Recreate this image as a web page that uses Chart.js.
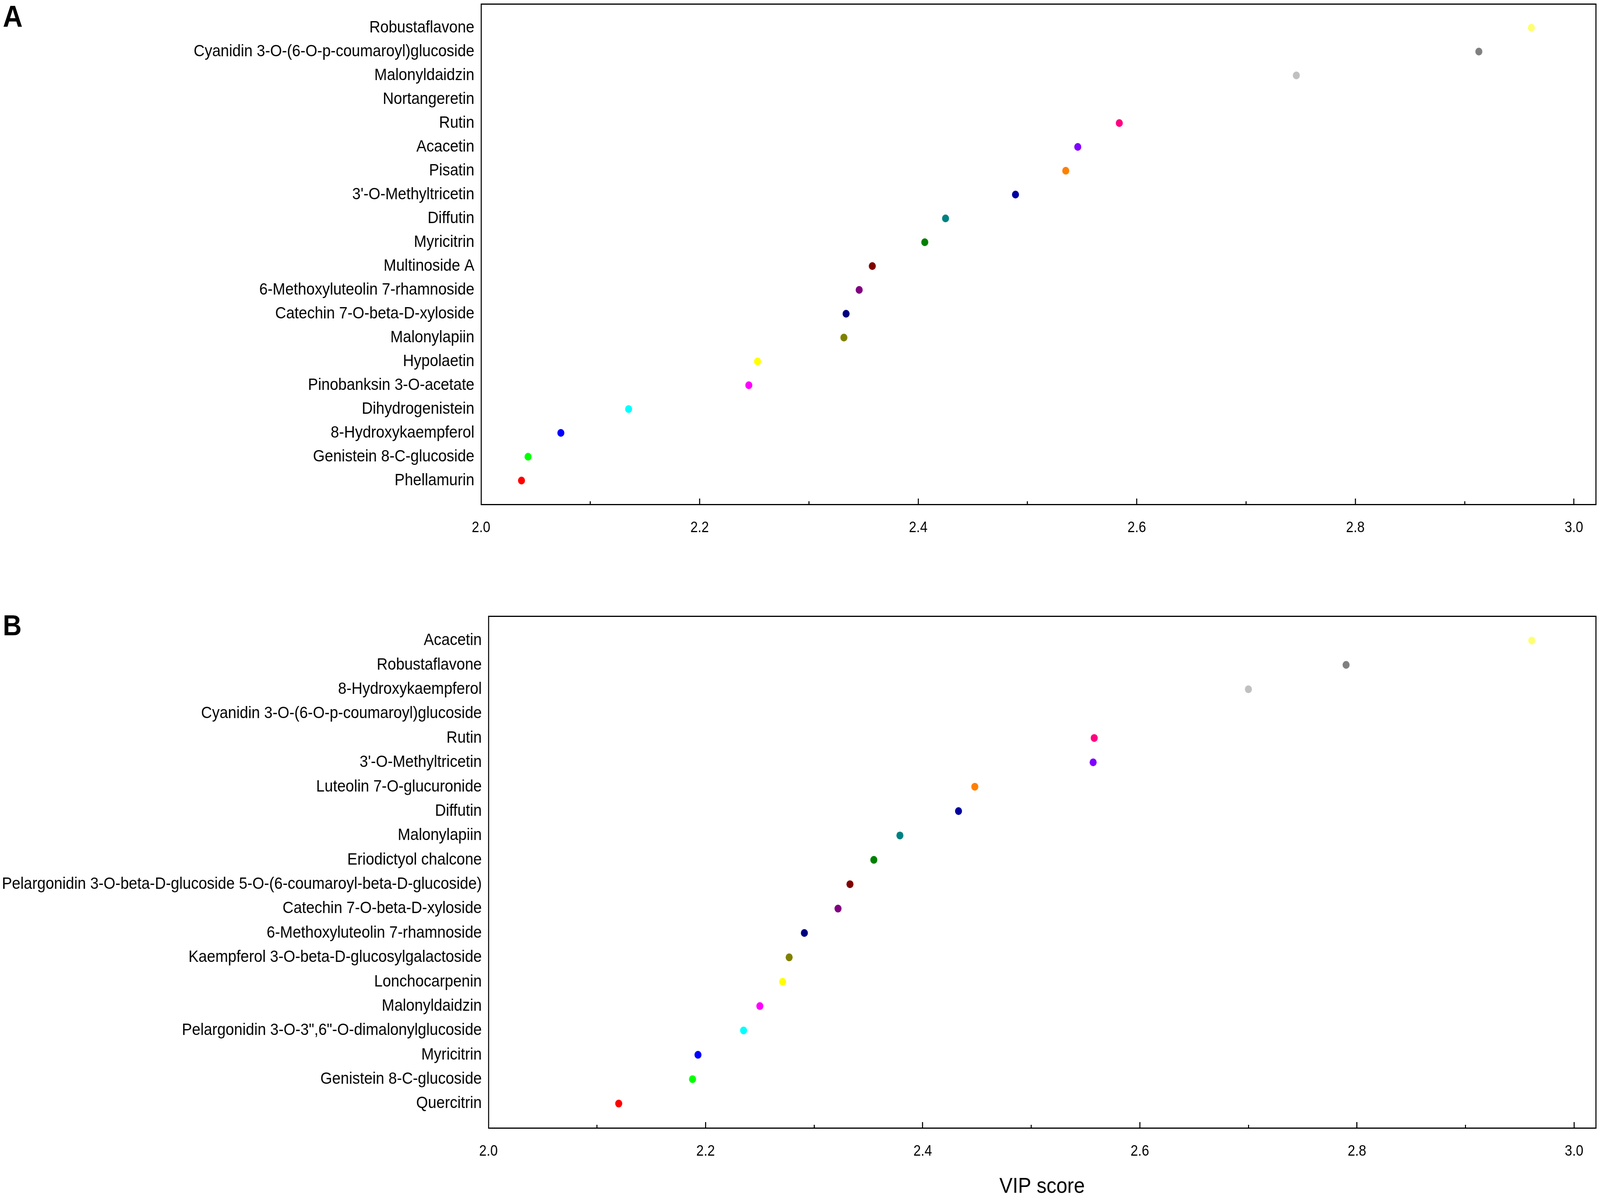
<!DOCTYPE html>
<html><head><meta charset="utf-8">
<script src="https://cdn.jsdelivr.net/npm/chart.js@4.4.1/dist/chart.umd.min.js"></script>
<style>
html,body{margin:0;padding:0;background:#fff;overflow:hidden;}
#outer{position:relative;overflow:hidden;background:#fff;}
#wrap{position:absolute;left:0;top:0;width:4550px;height:3074px;overflow:hidden;background:#fff;transform-origin:0 0;}
canvas{position:absolute;left:0;}
#cA{top:0;}
#cB{top:1450px;}
.panel{position:absolute;left:8px;font-family:"Liberation Sans",Arial,sans-serif;font-weight:bold;line-height:1;color:#000;}
</style></head><body>
<div id="outer">
<div id="wrap">
<canvas id="cA" width="4550" height="1450" style="width:4550px;height:1450px"></canvas>
<canvas id="cB" width="4550" height="1624" style="width:4550px;height:1624px"></canvas>
<div class="panel" style="top:3px;font-size:78px">A</div>
<div class="panel" style="top:1564px;font-size:74px">B</div>
</div>
</div>
<script>
// ---- data (top row first) ----
const namesA = ['Robustaflavone','Cyanidin 3-O-(6-O-p-coumaroyl)glucoside','Malonyldaidzin','Nortangeretin','Rutin','Acacetin','Pisatin',"3'-O-Methyltricetin",'Diffutin','Myricitrin','Multinoside A','6-Methoxyluteolin 7-rhamnoside','Catechin 7-O-beta-D-xyloside','Malonylapiin','Hypolaetin','Pinobanksin 3-O-acetate','Dihydrogenistein','8-Hydroxykaempferol','Genistein 8-C-glucoside','Phellamurin'];
const valuesA = [2.961, 2.913, 2.746, 2.66, 2.584, 2.546, 2.535, 2.489, 2.425, 2.406, 2.358, 2.346, 2.334, 2.332, 2.253, 2.245, 2.135, 2.073, 2.043, 2.037];

const namesB = ['Acacetin','Robustaflavone','8-Hydroxykaempferol','Cyanidin 3-O-(6-O-p-coumaroyl)glucoside','Rutin',"3'-O-Methyltricetin",'Luteolin 7-O-glucuronide','Diffutin','Malonylapiin','Eriodictyol chalcone','Pelargonidin 3-O-beta-D-glucoside 5-O-(6-coumaroyl-beta-D-glucoside)','Catechin 7-O-beta-D-xyloside','6-Methoxyluteolin 7-rhamnoside','Kaempferol 3-O-beta-D-glucosylgalactoside','Lonchocarpenin','Malonyldaidzin','Pelargonidin 3-O-3",6"-O-dimalonylglucoside','Myricitrin','Genistein 8-C-glucoside','Quercitrin'];
const valuesB = [2.961, 2.790, 2.700, 2.62, 2.558, 2.557, 2.448, 2.433, 2.379, 2.355, 2.333, 2.322, 2.291, 2.277, 2.271, 2.250, 2.235, 2.193, 2.188, 2.120];

const xMajorTicks = [2.0, 2.2, 2.4, 2.6, 2.8, 3.0];
const xMinorTicks = [2.1, 2.3, 2.5, 2.7, 2.9];
const xRange = [2.0, 3.02];
const xTitleText = 'VIP score';

// ---- styles ----
const rankColors = ['#FFFF70','#808080','#C0C0C0','#FFFFFF','#FF0080','#8000FF','#FF8000','#0000A0','#008080','#008000','#800000','#800080','#000080','#808000','#FFFF00','#FF00FF','#00FFFF','#0000FF','#00FF00','#FF0000'];

// fit the 4550x3074 design exactly to the actual viewport
const DESIGN_W = 4550, DESIGN_H = 3074;
const vw = window.innerWidth || document.documentElement.clientWidth || DESIGN_W;
const vh = window.innerHeight || document.documentElement.clientHeight || DESIGN_H;
const kx = vw / DESIGN_W, ky = vh / DESIGN_H;
const outerEl = document.getElementById('outer');
outerEl.style.width = vw + 'px';
outerEl.style.height = vh + 'px';
document.documentElement.style.height = vh + 'px';
document.body.style.height = vh + 'px';
document.getElementById('wrap').style.transform = 'scale(' + kx + ',' + ky + ')';
const pixelRatio = Math.max(0.25, Math.max(kx, ky) * (window.devicePixelRatio || 1));

Chart.defaults.font.family = '"Liberation Sans", Arial, Helvetica, sans-serif';
Chart.defaults.color = '#000';

function build(canvasId, names, values, lay) {
  const labels = [''].concat(names, ['']);
  const lastIdx = labels.length - 1;
  const zeroPadV = s => { s.paddingTop = 0; s.paddingBottom = 0; };
  const zeroPadH = s => { s.paddingLeft = 0; s.paddingRight = 0; };
  return new Chart(document.getElementById(canvasId), {
    type: 'scatter',
    data: { datasets: [{
      xAxisID: 'x', yAxisID: 'y',
      data: names.map((n, i) => ({ x: values[i], y: n })),
      pointBackgroundColor: rankColors,
      pointBorderWidth: 0,
      pointRadius: 10,
      pointHoverRadius: 10,
      showLine: false
    }]},
    options: {
      responsive: false, animation: false, devicePixelRatio: pixelRatio, events: [],
      layout: { padding: { top: lay.top, right: 12, left: 0, bottom: 0 } },
      plugins: { legend: { display: false }, tooltip: { enabled: false }, title: { display: false } },
      scales: {
        y: {
          type: 'category', axis: 'y', labels: labels, offset: false, position: 'left',
          grid: { display: true, drawOnChartArea: false, drawTicks: false, lineWidth: 3, color: '#000' },
          border: { display: true, color: '#000', width: 3 },
          ticks: { font: { size: 43 }, color: '#000', padding: 19, autoSkip: false },
          afterFit: s => { s.width = lay.left; zeroPadV(s); }
        },
        x: {
          type: 'linear', axis: 'x', position: 'bottom', min: xRange[0], max: xRange[1],
          grid: { display: true, drawOnChartArea: false, drawTicks: true, tickLength: -15, tickWidth: 3, tickColor: '#000', lineWidth: 3, color: '#000' },
          border: { display: true, color: '#000', width: 3 },
          ticks: { font: { size: 38 }, color: '#000', padding: 53, autoSkip: false, maxRotation: 0, minRotation: 0, includeBounds: false,
                   callback: v => Number(v).toFixed(1) },
          afterBuildTicks: s => { s.ticks = xMajorTicks.map(v => ({ value: v })); },
          afterFit: s => { s.height = lay.xh; zeroPadH(s); },
          title: lay.title
            ? { display: true, text: lay.title, font: { size: 56 }, color: '#000', padding: { top: 0, bottom: 3 } }
            : { display: false }
        },
        xMinor: {
          type: 'linear', axis: 'x', position: { y: lastIdx }, min: xRange[0], max: xRange[1],
          grid: { display: true, drawOnChartArea: false, drawTicks: true, tickLength: -8, tickWidth: 3, tickColor: '#000', lineWidth: 3 },
          border: { display: false },
          ticks: { display: false },
          afterBuildTicks: s => { s.ticks = xMinorTicks.map(v => ({ value: v })); },
          afterFit: s => { s.height = 0; zeroPadH(s); }
        },
        xTop: {
          type: 'linear', axis: 'x', position: 'top', min: xRange[0], max: xRange[1],
          grid: { display: true, drawOnChartArea: false, drawTicks: false, lineWidth: 3, color: '#000' },
          border: { display: true, color: '#000', width: 3 },
          ticks: { display: false },
          afterFit: s => { s.height = 0; zeroPadH(s); }
        },
        yRight: {
          type: 'linear', axis: 'y', position: 'right', min: 0, max: 1,
          grid: { display: true, drawOnChartArea: false, drawTicks: false, lineWidth: 3, color: '#000' },
          border: { display: true, color: '#000', width: 3 },
          ticks: { display: false },
          afterFit: s => { s.width = 0; zeroPadV(s); }
        }
      }
    }
  });
}

// chart A: plot box 1368..4538 x 8..1291 (canvas 0..1450)
build('cA', namesA, valuesA, { top: 8, left: 1368, xh: 1450 - 1291, title: null });
// chart B: plot box 1389..4538 x 1577..2887 (canvas 1450..3074)
build('cB', namesB, valuesB, { top: 1577 - 1450, left: 1389, xh: 1624 - (2887 - 1450), title: xTitleText });
</script>
</body></html>
